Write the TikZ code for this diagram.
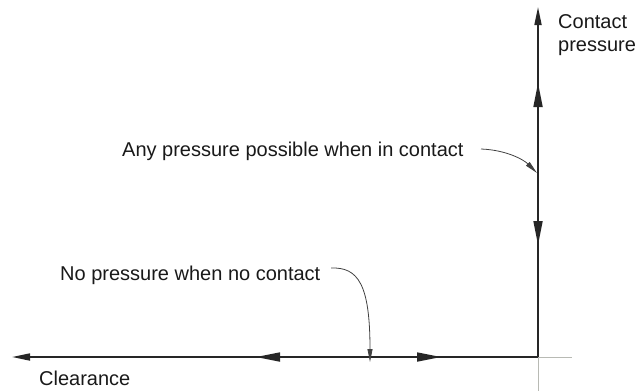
\documentclass[tikz,border=0pt]{standalone}
\usepackage{fontspec}
\setmainfont{Liberation Sans}
\usetikzlibrary{arrows.meta}
\definecolor{axisgray}{HTML}{262626}
\definecolor{guidegray}{HTML}{B8BAB4}

\tikzset{
  axis/.style    = {draw=axisgray, line width=1.7pt},
  guide/.style   = {draw=guidegray, line width=1pt},
  label/.style   = {inner sep=0pt, anchor=base west, text=black!90,
                    font=\fontsize{20}{23}\selectfont},
  pointer/.style = {draw=black!75, line width=0.8pt,
                    -{Triangle[length=13pt, width=5pt]}},
  bigtip/.style  = {-{Triangle[length=24pt, width=9pt]}},
  endtip/.style  = {-{Triangle[length=18pt, width=7pt]}}
}

\begin{document}
\begin{tikzpicture}[x=1pt, y=-1pt]
  \useasboundingbox (0,0) rectangle (636,391);

  % axes
  \coordinate (origin)    at (538,357);
  \coordinate (presstop)  at (538,7);
  \coordinate (pressup)   at (538,83);
  \coordinate (presshit)  at (538,173);
  \coordinate (pressdown) at (538,245);
  \coordinate (clearend)  at (12,357);
  \coordinate (gapleft)   at (256,357);
  \coordinate (gaphit)    at (370,357);
  \coordinate (gapright)  at (441,357);
  \coordinate (guideright) at (572,357);
  \coordinate (guidedown)  at (538,391);

  \draw[guide] (origin) -- (guideright);
  \draw[guide] (origin) -- (guidedown);

  \draw[axis, endtip] (origin) -- (presstop);
  \draw[axis, bigtip] (origin) -- (pressup);
  \draw[axis, bigtip] (presshit) -- (pressdown);

  \draw[axis, endtip] (origin) -- (clearend);
  \draw[axis, bigtip] (gaphit) -- (gapleft);
  \draw[axis, bigtip] (gaphit) -- (gapright);

  % labels
  \node[label] (contacttext)  at (558,28)  {Contact};
  \node[label] (pressuretext) at (558,51)  {pressure};
  \node[label] (anytext)      at (122,156) {Any pressure possible when in contact};
  \node[label] (notext)       at (60,280)  {No pressure when no contact};
  \node[label] (cleartext)    at (39,385)  {Clearance};

  % pointers
  \coordinate (anytail) at (481,149);
  \coordinate (notail)  at (331,268);
  \draw[pointer] (anytail) .. controls (507,150) and (524,160) .. ([xshift=-1pt]presshit);
  \draw[pointer] (notail) .. controls (358,267) and (370,284) .. ([yshift=-5pt]gaphit);
\end{tikzpicture}
\end{document}
